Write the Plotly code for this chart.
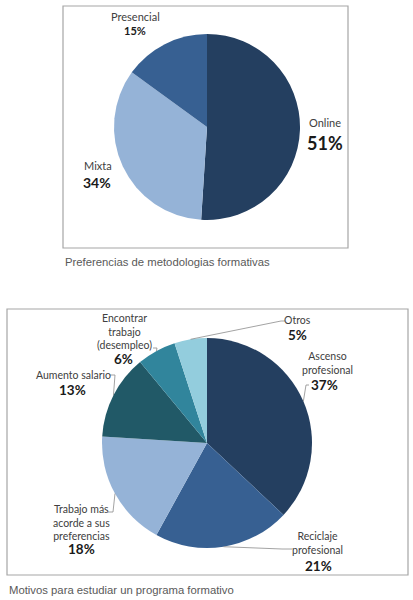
import math
import plotly.graph_objects as go

# Chart 1: Preferencias de metodologias formativas
metodo_labels = ["Online", "Mixta", "Presencial"]
metodo_values = [51, 34, 15]
metodo_colors = ["#243F60", "#95B3D7", "#376092"]

# Chart 2: Motivos para estudiar un programa formativo
motivo_labels = ["Ascenso<br>profesional", "Reciclaje<br>profesional",
                 "Trabajo más<br>acorde a sus<br>preferencias", "Aumento salario",
                 "Encontrar<br>trabajo<br>(desempleo)", "Otros"]
motivo_values = [37, 21, 18, 13, 6, 5]
motivo_colors = ["#243F60", "#376092", "#95B3D7", "#215967", "#31859C", "#93CDDD"]

caption_1 = "Preferencias de metodologias formativas"
caption_2 = "Motivos para estudiar un programa formativo"

W, H = 413, 600


def px(x):
    return x / W


def py(y):
    return 1 - y / H


# pie geometry in pixels (center x, center y, radius)
pie1 = (207, 127, 93)
pie2 = (207, 443, 105)


def domain(c):
    cx, cy, r = c
    return dict(x=[px(cx - r), px(cx + r)], y=[py(cy + r), py(cy - r)])


def edge_point(c, values, i):
    # mid-angle of slice i, clockwise from 12 o'clock
    cx, cy, r = c
    cum = sum(values[:i]) + values[i] / 2
    a = 2 * math.pi * cum / sum(values)
    return cx + r * math.sin(a), cy - r * math.cos(a)


fig = go.Figure()
fig.add_trace(go.Pie(labels=metodo_labels, values=metodo_values, sort=False,
                     direction="clockwise", rotation=0, textinfo="none",
                     marker=dict(colors=metodo_colors, line=dict(width=0)),
                     domain=domain(pie1), showlegend=False, hoverinfo="label+percent"))
fig.add_trace(go.Pie(labels=motivo_labels, values=motivo_values, sort=False,
                     direction="clockwise", rotation=0, textinfo="none",
                     marker=dict(colors=motivo_colors, line=dict(width=0)),
                     domain=domain(pie2), showlegend=False, hoverinfo="percent"))

lab_font = dict(family="Lato, Open Sans, sans-serif", color="#404040")
pct_font = dict(family="Lato, Open Sans, sans-serif", color="#1a1a1a")

# label / percentage positions (px), percentage font size, label font size
metodo_pos = [((325, 122), (325, 143), 18, 11),
              ((98, 166), (97, 183), 14, 11),
              ((135, 17), (135, 31), 11, 11)]
motivo_pos = [((327, 363), (324, 385), 13.5, 10.5),
              ((317, 543), (318, 566), 13.5, 10.5),
              ((81, 522), (81, 549), 13.5, 10.5),
              ((73, 375), (72, 390), 13.5, 10.5),
              ((124, 331), (123, 359), 13.5, 10.5),
              ((297, 320), (297, 335), 13.5, 10.5)]

annotations = []
for labels, values, pos in [(metodo_labels, metodo_values, metodo_pos),
                            (motivo_labels, motivo_values, motivo_pos)]:
    for lab, v, (lp, pp, ps, ls) in zip(labels, values, pos):
        annotations.append(dict(x=px(lp[0]), y=py(lp[1]), text=lab, showarrow=False,
                                xanchor="center", yanchor="middle",
                                font=dict(size=ls, **lab_font)))
        annotations.append(dict(x=px(pp[0]), y=py(pp[1]), text=f"<b>{v}%</b>",
                                showarrow=False, xanchor="center", yanchor="middle",
                                font=dict(size=ps, **pct_font)))

annotations.append(dict(x=px(63), y=py(262), text=caption_1, showarrow=False,
                        xanchor="left", yanchor="middle",
                        font=dict(family="Liberation Sans, Arial", size=11.3, color="#595959")))
annotations.append(dict(x=px(7), y=py(590), text=caption_2, showarrow=False,
                        xanchor="left", yanchor="middle",
                        font=dict(family="Liberation Sans, Arial", size=11.3, color="#595959")))

shapes = [
    dict(type="rect", xref="paper", yref="paper", x0=px(63), x1=px(348), y0=py(248), y1=py(6),
         line=dict(color="#A6A6A6", width=1.2)),
    dict(type="rect", xref="paper", yref="paper", x0=px(7), x1=px(408), y0=py(575), y1=py(309),
         line=dict(color="#A6A6A6", width=1.2)),
]

# leader lines: label end -> elbow -> slice edge
leaders = {0: [(309, 385), (306, 385)], 1: [(292, 549), (282, 549)],
           2: [(108, 512), (113, 512)], 3: [(110, 375), (115, 375)],
           4: [(153, 348), (157, 348)], 5: [(285, 321), (281, 321)]}
for i, pts in leaders.items():
    ex, ey = edge_point(pie2, motivo_values, i)
    allp = pts + [(ex, ey)]
    path = "M " + " L ".join(f"{px(x)},{py(y)}" for x, y in allp)
    shapes.append(dict(type="path", xref="paper", yref="paper", path=path,
                       line=dict(color="#8C8C8C", width=0.8)))

fig.update_layout(width=W, height=H, margin=dict(l=0, r=0, t=0, b=0),
                  paper_bgcolor="white", plot_bgcolor="white",
                  annotations=annotations, shapes=shapes)

# drop the default page margin so the figure fills the window
fig.write_html("out.html", config={"displayModeBar": False},
               post_script="document.body.style.margin='0';"
               "document.body.style.overflow='hidden';")
